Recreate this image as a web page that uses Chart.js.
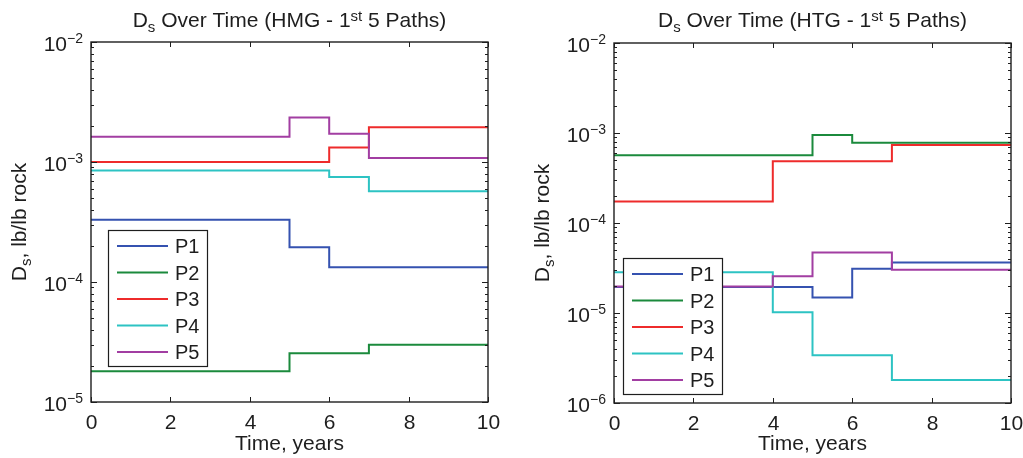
<!DOCTYPE html>
<html>
<head>
<meta charset="utf-8">
<script src="https://cdn.jsdelivr.net/npm/chart.js@4.4.1/dist/chart.umd.min.js"></script>
<style>
    html, body { margin: 0; padding: 0; background: #fff; }
    #wrap { position: relative; width: 1023px; height: 458px; overflow: hidden; }
    .panel { position: absolute; top: 0; height: 458px; }
</style>
</head>
<body>
<div id="wrap">
    <div class="panel" style="left:0;width:511px"><canvas id="hmgChart"></canvas></div>
    <div class="panel" style="left:511px;width:512px"><canvas id="htgChart"></canvas></div>
</div>
<script>
// 路径名称
const seriesLabels = ['P1', 'P2', 'P3', 'P4', 'P5'];
const xTickValues = [0, 2, 4, 6, 8, 10];

// HMG - 每条路径的时间断点和对应的 Ds 值 (阶梯)
const hmgP1Time = [0, 5, 6, 10];
const hmgP1Ds   = [3.3e-4, 1.95e-4, 1.33e-4, 1.33e-4];
const hmgP2Time = [0, 5, 7, 10];
const hmgP2Ds   = [1.8e-5, 2.55e-5, 3.0e-5, 3.0e-5];
const hmgP3Time = [0, 6, 7, 10];
const hmgP3Ds   = [1.0e-3, 1.32e-3, 1.95e-3, 1.95e-3];
const hmgP4Time = [0, 6, 7, 10];
const hmgP4Ds   = [8.5e-4, 7.5e-4, 5.7e-4, 5.7e-4];
const hmgP5Time = [0, 5, 6, 7, 10];
const hmgP5Ds   = [1.62e-3, 2.35e-3, 1.72e-3, 1.08e-3, 1.08e-3];

// HTG
const htgP1Time = [0, 5, 6, 7, 10];
const htgP1Ds   = [1.95e-5, 1.49e-5, 3.1e-5, 3.65e-5, 3.65e-5];
const htgP2Time = [0, 5, 6, 10];
const htgP2Ds   = [5.65e-4, 9.5e-4, 7.8e-4, 7.8e-4];
const htgP3Time = [0, 4, 7, 10];
const htgP3Ds   = [1.73e-4, 4.85e-4, 7.35e-4, 7.35e-4];
const htgP4Time = [0, 4, 5, 7, 10];
const htgP4Ds   = [2.83e-5, 1.02e-5, 3.4e-6, 1.8e-6, 1.8e-6];
const htgP5Time = [0, 4, 5, 7, 10];
const htgP5Ds   = [1.97e-5, 2.56e-5, 4.7e-5, 3.03e-5, 3.03e-5];

const seriesColors = ['#3552b0', '#1b8a3c', '#ee2b2b', '#2dc3c3', '#a23ea2'];
const FONT = '"Liberation Sans", Arial, Helvetica, sans-serif';
const INK = '#1e1e1e';

// 画带上下标的文字: parts = [[文字, 字号, 基线偏移], ...]
function richWidth(ctx, parts) {
    let w = 0;
    parts.forEach(function(p) {
        ctx.font = p[1] + 'px ' + FONT;
        w += ctx.measureText(p[0]).width;
    });
    return w;
}

function drawRich(ctx, parts, x, y, align) {
    const w = richWidth(ctx, parts);
    let cx = align === 'center' ? x - w / 2 : (align === 'right' ? x - w : x);
    ctx.textAlign = 'left';
    ctx.textBaseline = 'alphabetic';
    parts.forEach(function(p) {
        ctx.font = p[1] + 'px ' + FONT;
        ctx.fillText(p[0], cx, y + (p[2] || 0));
        cx += ctx.measureText(p[0]).width;
    });
}

// MATLAB 风格的坐标框、刻度、标题和图例
const matlabAxes = {
    id: 'matlabAxes',
    afterDraw: function(chart, args, opts) {
        const ctx = chart.ctx;
        const a = chart.chartArea;
        const x = chart.scales.x;
        const y = chart.scales.y;
        ctx.save();
        ctx.fillStyle = INK;
        ctx.strokeStyle = INK;

        // x 刻度
        ctx.lineWidth = 1;
        xTickValues.forEach(function(v) {
            const px = Math.round(x.getPixelForValue(v)) + 0.5;
            ctx.beginPath();
            ctx.moveTo(px, a.bottom); ctx.lineTo(px, a.bottom - 5);
            ctx.moveTo(px, a.top); ctx.lineTo(px, a.top + 5);
            ctx.stroke();
            ctx.font = '21px ' + FONT;
            ctx.textAlign = 'center';
            ctx.textBaseline = 'alphabetic';
            ctx.fillText(String(v), px, a.bottom + 27);
        });

        // y 对数刻度
        const kMin = Math.round(Math.log10(y.min));
        const kMax = Math.round(Math.log10(y.max));
        for (let k = kMin; k <= kMax; k++) {
            const py = Math.round(y.getPixelForValue(Math.pow(10, k))) + 0.5;
            ctx.beginPath();
            ctx.moveTo(a.left, py); ctx.lineTo(a.left + 6, py);
            ctx.moveTo(a.right, py); ctx.lineTo(a.right - 6, py);
            ctx.stroke();
            drawRich(ctx, [['10', 21, 8], ['\u2212' + Math.abs(k), 14, 0]], a.left - 8, py, 'right');
            if (k < kMax) {
                for (let m = 2; m <= 9; m++) {
                    const pm = Math.round(y.getPixelForValue(m * Math.pow(10, k))) + 0.5;
                    ctx.beginPath();
                    ctx.moveTo(a.left, pm); ctx.lineTo(a.left + 3, pm);
                    ctx.moveTo(a.right, pm); ctx.lineTo(a.right - 3, pm);
                    ctx.stroke();
                }
            }
        }

        // 坐标框
        ctx.lineWidth = 1.4;
        ctx.strokeRect(a.left, a.top, a.right - a.left, a.bottom - a.top);

        // 标题
        const cx = (a.left + a.right) / 2;
        drawRich(ctx, [['D', 21, 0], ['s', 15, 5], [' Over Time (' + opts.tag + ' - 1', 21, 0],
                       ['st', 15, -6], [' 5 Paths)', 21, 0]], cx, 27, 'center');

        // x 轴标题
        ctx.font = '21px ' + FONT;
        ctx.textAlign = 'center';
        ctx.fillText('Time, years', cx, 450);

        // y 轴标题 (旋转)
        ctx.save();
        ctx.translate(a.left - 65, (a.top + a.bottom) / 2);
        ctx.rotate(-Math.PI / 2);
        drawRich(ctx, [['D', 21, 0], ['s', 15, 5], [', lb/lb rock', 21, 0]], 0, 0, 'center');
        ctx.restore();

        // 图例
        const lx = a.left + opts.legendDx;
        const ly = a.top + opts.legendDy;
        ctx.fillStyle = '#fff';
        ctx.fillRect(lx, ly, 99, 136);
        ctx.lineWidth = 1.2;
        ctx.strokeStyle = INK;
        ctx.strokeRect(lx + 0.5, ly + 0.5, 99, 136);
        chart.data.datasets.forEach(function(ds, i) {
            const ey = ly + 16 + i * 26.5;
            ctx.strokeStyle = ds.borderColor;
            ctx.lineWidth = 2;
            ctx.beginPath();
            ctx.moveTo(lx + 9, ey); ctx.lineTo(lx + 60, ey);
            ctx.stroke();
            ctx.fillStyle = INK;
            ctx.font = '20px ' + FONT;
            ctx.textAlign = 'left';
            ctx.fillText(ds.label, lx + 67, ey + 7);
        });
        ctx.restore();
    }
};

function makeSeries(times, values) {
    return times.map(function(t, i) { return { x: t, y: values[i] }; });
}

function makePanel(canvasId, tag, timeLists, dsLists, yMin, yMax, padding, legendDx, legendDy) {
    const datasets = seriesLabels.map(function(label, i) {
        return {
            label: label,
            data: makeSeries(timeLists[i], dsLists[i]),
            borderColor: seriesColors[i],
            borderWidth: 2,
            pointRadius: 0,
            stepped: true,
            fill: false,
            order: seriesLabels.length - i
        };
    });
    return new Chart(document.getElementById(canvasId), {
        type: 'line',
        data: { datasets: datasets },
        plugins: [matlabAxes],
        options: {
            responsive: true,
            maintainAspectRatio: false,
            animation: false,
            layout: { padding: padding },
            plugins: {
                legend: { display: false },
                tooltip: { enabled: false },
                matlabAxes: { tag: tag, legendDx: legendDx, legendDy: legendDy }
            },
            scales: {
                x: {
                    type: 'linear', min: 0, max: 10,
                    grid: { display: false, drawTicks: false },
                    border: { display: false },
                    ticks: { display: false }
                },
                y: {
                    type: 'logarithmic', min: yMin, max: yMax,
                    grid: { display: false, drawTicks: false },
                    border: { display: false },
                    ticks: { display: false }
                }
            }
        }
    });
}

makePanel('hmgChart', 'HMG',
    [hmgP1Time, hmgP2Time, hmgP3Time, hmgP4Time, hmgP5Time],
    [hmgP1Ds, hmgP2Ds, hmgP3Ds, hmgP4Ds, hmgP5Ds],
    1e-5, 1e-2, { left: 91, right: 23, top: 42, bottom: 56 }, 17, 188);

makePanel('htgChart', 'HTG',
    [htgP1Time, htgP2Time, htgP3Time, htgP4Time, htgP5Time],
    [htgP1Ds, htgP2Ds, htgP3Ds, htgP4Ds, htgP5Ds],
    1e-6, 1e-2, { left: 103, right: 12, top: 43, bottom: 55 }, 9, 215);
</script>
</body>
</html>
